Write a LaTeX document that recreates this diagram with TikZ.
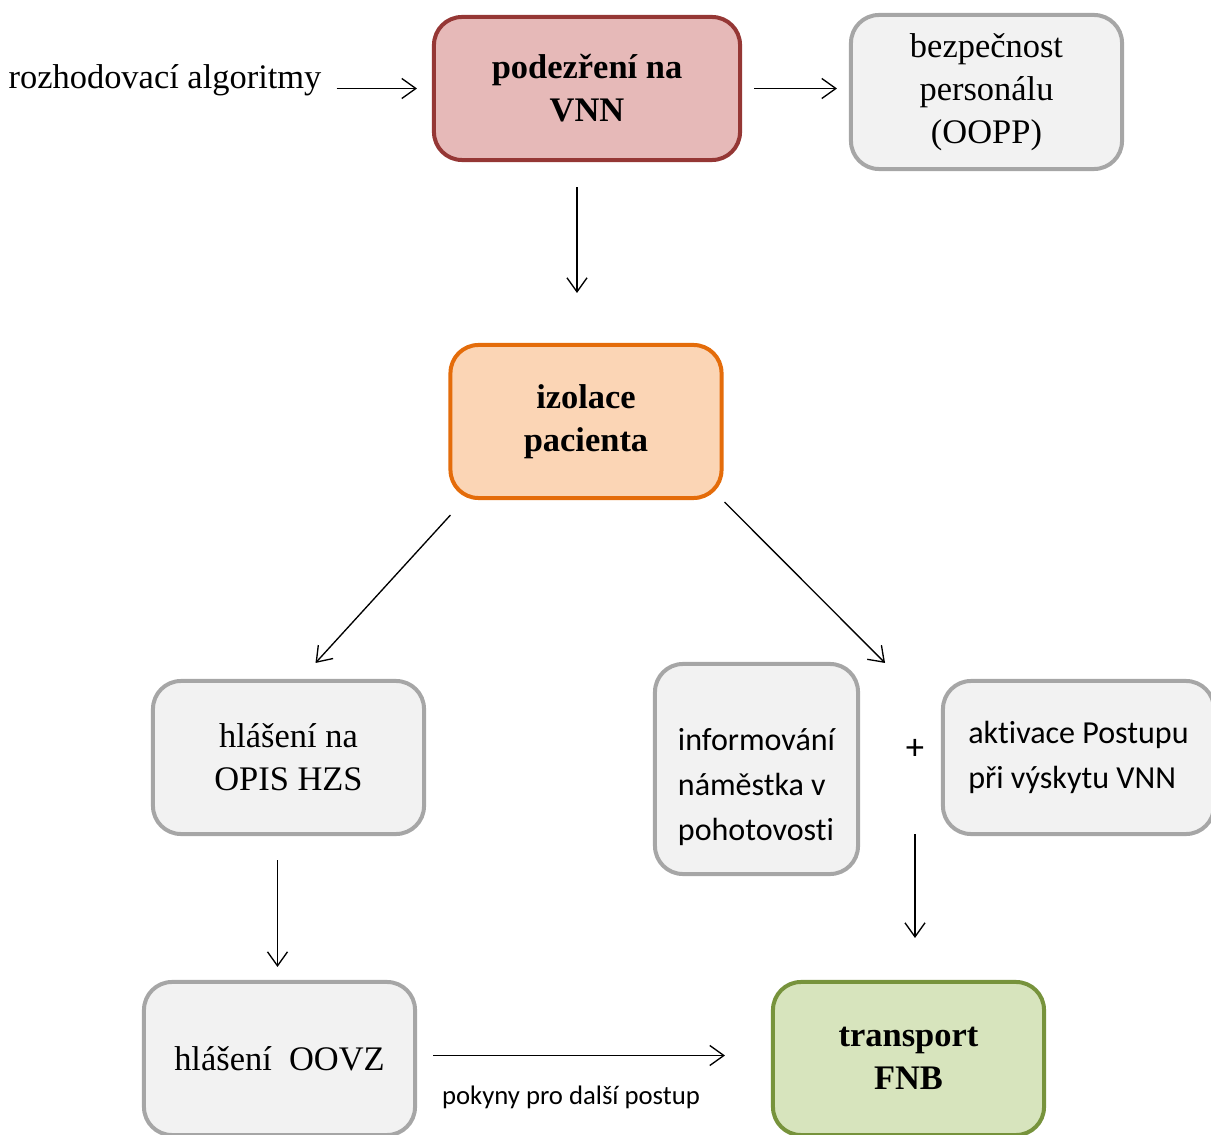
\documentclass[tikz,border=0pt]{standalone}
\usepackage{fontspec}
\setmainfont{Liberation Serif}
\newfontfamily\calibri[Ligatures=NoCommon]{Carlito}
\usetikzlibrary{arrows.meta}

\definecolor{redline}{HTML}{953735}
\definecolor{redfill}{HTML}{E6B9B8}
\definecolor{grayline}{HTML}{A6A6A6}
\definecolor{grayfill}{HTML}{F2F2F2}
\definecolor{orangeline}{HTML}{E46C0A}
\definecolor{orangefill}{HTML}{FBD5B5}
\definecolor{greenline}{HTML}{77933C}
\definecolor{greenfill}{HTML}{D7E4BD}

\tikzset{
  box/.style={draw, line width=0.1cm, rounded corners=0.7cm, align=center,
    minimum width=6.775cm, minimum height=3.825cm, inner sep=0pt,
    font=\fontsize{24.5}{30.6}\selectfont},
  redbox/.style={box, draw=redline, fill=redfill, font=\fontsize{24.5}{30.6}\selectfont\bfseries},
  graybox/.style={box, draw=grayline, fill=grayfill},
  orangebox/.style={box, draw=orangeline, fill=orangefill, font=\fontsize{24.5}{30.6}\selectfont\bfseries},
  greenbox/.style={box, draw=greenline, fill=greenfill, font=\fontsize{24.5}{30.6}\selectfont\bfseries},
  sans/.style={font=\calibri\fontsize{22.8}{32}\selectfont},
  arr/.style={-{Straight Barb[length=0.35cm,width=0.5cm]}, line width=0.95pt}
}

\begin{document}
\begin{tikzpicture}[x=0.025cm,y=-0.025cm]
  \clip (0,0) rectangle (1211,1135);
  \useasboundingbox (0,0) rectangle (1211,1135);

  % boxes
  \node[redbox, minimum width=7.65cm, minimum height=3.575cm] (suspect) at (587,88.5) {podezření na\\VNN};
  \node[graybox, minimum height=3.85cm] (safety) at (986.5,92) {bezpečnost\\personálu\\(OOPP)};
  \node[orangebox] (isolation) at (586,421.5) {izolace\\pacienta};
  \node[graybox] (report) at (288.5,757.5) {hlášení na\\OPIS HZS};
  \node[graybox, sans, align=left, minimum width=5.075cm, minimum height=5.25cm] (deputy) at (756.5,769) {\rule{0pt}{1.45cm}informování\\náměstka v\\pohotovosti};
  \node[graybox, sans, align=left] (activate) at (1078.5,757.5) {aktivace Postupu\\při výskytu VNN};
  \node[graybox] (oovz) at (279.5,1058.5) {hlášení~~OOVZ};
  \node[greenbox] (transport) at (908.5,1058.5) {transport\\FNB};

  \node[inner sep=0pt, font=\fontsize{24.5}{30.6}\selectfont] (algo) at (165,80) {rozhodovací algoritmy};
  \node[font=\calibri\fontsize{26}{30}\selectfont] (plus) at (915,749) {+};

  % arrows
  \draw[arr, shorten <=0.375cm, shorten >=0.375cm] (algo.east |- suspect.west) -- (suspect.west);
  \draw[arr, shorten <=0.3cm, shorten >=0.3cm] (suspect.east) -- (suspect.east -| safety.west);
  \draw[arr, shorten <=0.625cm, shorten >=1.25cm] ([xshift=-0.25cm]suspect.south) -- ([xshift=-0.25cm]suspect.south |- isolation.north);
  \draw[arr] ([xshift=0.05cm,yshift=-0.375cm]isolation.south west) -- ([xshift=0.675cm,yshift=0.4cm]report.north);
  \draw[arr] ([xshift=0.025cm,yshift=-0.05cm]isolation.south east) -- ([xshift=0.625cm,yshift=-0.025cm]deputy.north east);
  \draw[arr, shorten <=0.6cm, shorten >=0.325cm] ([xshift=-0.275cm]report.south) -- ([xshift=-0.275cm]report.south |- oovz.north);
  \draw[arr, shorten <=1.75cm, shorten >=1.05cm] (plus) -- (plus |- transport.north);
  \draw[arr, shorten <=0.4cm, shorten >=1.15cm] ([yshift=0.075cm]oovz.east) -- ([yshift=0.075cm]oovz.east -| transport.west)
    node[midway, below=0.62cm, xshift=-0.575cm, font=\calibri\fontsize{19}{22}\selectfont] {pokyny pro další postup};
\end{tikzpicture}
\end{document}
